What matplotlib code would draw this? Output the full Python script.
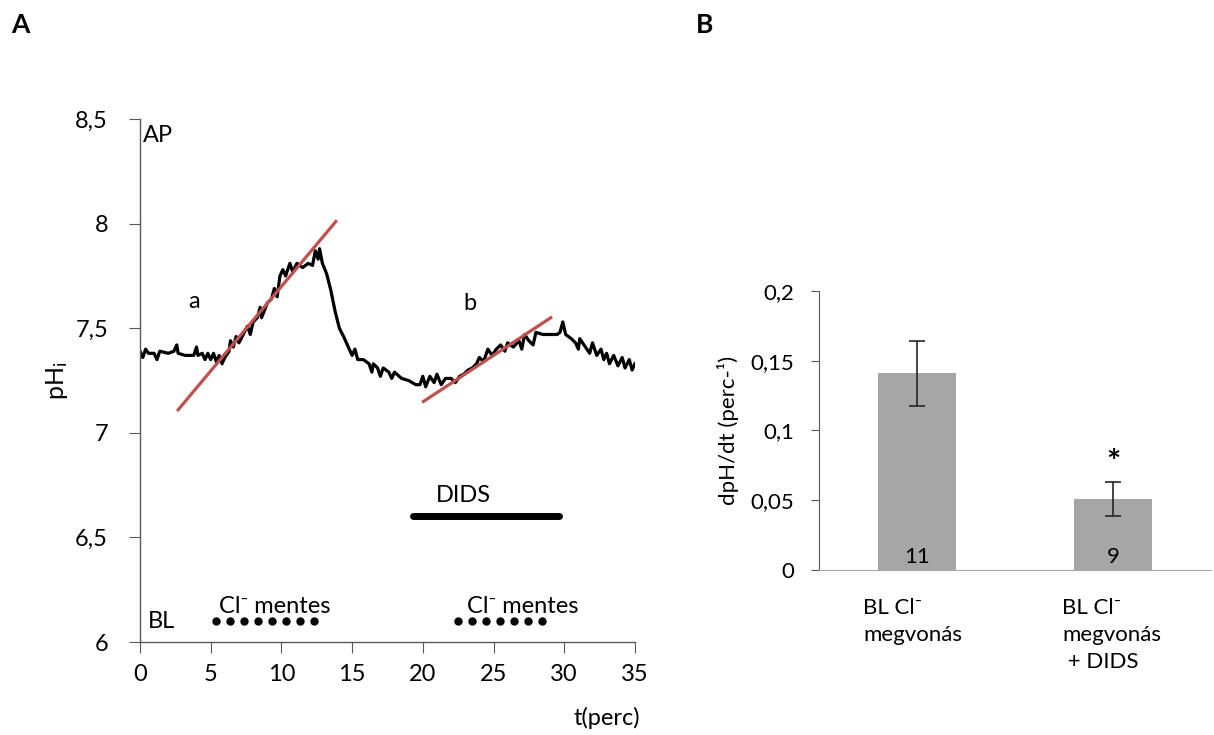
import numpy as np
import matplotlib.pyplot as plt

plt.rcParams['font.family'] = ['Lato', 'DejaVu Sans']
plt.rcParams['mathtext.fontset'] = 'custom'
plt.rcParams['mathtext.rm'] = 'Lato'
plt.rcParams['mathtext.it'] = 'Lato:italic'

# panel A: pHi trace (t in perc, pH)
t_trace = [0.0, 0.2, 0.4, 0.6, 1.0, 1.2, 1.4, 2.0, 2.4, 2.6, 2.7, 3.2, 3.8, 4.0, 4.1, 4.4,
           4.6, 4.8, 5.0, 5.2, 5.4, 5.6, 5.8, 6.0, 6.3, 6.4, 6.6, 6.8, 7.0, 7.3, 7.6, 7.8,
           8.0, 8.3, 8.5, 8.6, 9.0, 9.3, 9.5, 9.7, 9.9, 10.1, 10.3, 10.6, 10.8, 11.1, 11.5,
           11.9, 12.2, 12.4, 12.6, 12.7, 12.9, 13.2, 13.5, 13.8, 14.1, 14.4, 14.6, 14.8,
           15.0, 15.2, 15.4, 15.8, 16.2, 16.4, 16.5, 16.8, 17.0, 17.2, 17.6, 17.8, 18.0,
           18.5, 19.0, 19.5, 19.8, 20.0, 20.2, 20.5, 20.8, 21.0, 21.3, 21.6, 22.0, 22.3,
           22.6, 22.9, 23.2, 23.5, 23.8, 24.0, 24.3, 24.6, 24.9, 25.2, 25.5, 25.8, 26.0,
           26.4, 26.8, 27.0, 27.2, 27.5, 27.8, 28.0, 28.5, 29.0, 29.5, 29.7, 29.9, 30.1,
           30.5, 30.8, 31.0, 31.1, 31.5, 31.8, 32.0, 32.3, 32.6, 32.8, 33.0, 33.2, 33.5,
           33.8, 34.1, 34.3, 34.6, 34.8, 35.0]
ph_trace = [7.39, 7.36, 7.40, 7.38, 7.38, 7.35, 7.39, 7.38, 7.39, 7.42, 7.38, 7.37, 7.37,
            7.41, 7.37, 7.38, 7.35, 7.38, 7.35, 7.38, 7.34, 7.37, 7.33, 7.36, 7.39, 7.44,
            7.41, 7.46, 7.43, 7.47, 7.51, 7.47, 7.53, 7.55, 7.60, 7.55, 7.62, 7.64, 7.69,
            7.65, 7.75, 7.78, 7.75, 7.81, 7.77, 7.81, 7.79, 7.81, 7.80, 7.87, 7.83, 7.88,
            7.81, 7.76, 7.68, 7.58, 7.50, 7.46, 7.43, 7.40, 7.37, 7.40, 7.35, 7.35, 7.33,
            7.29, 7.33, 7.31, 7.27, 7.31, 7.29, 7.26, 7.29, 7.26, 7.25, 7.23, 7.23, 7.27,
            7.22, 7.27, 7.24, 7.28, 7.23, 7.26, 7.26, 7.24, 7.27, 7.28, 7.30, 7.31, 7.33,
            7.36, 7.34, 7.40, 7.37, 7.40, 7.42, 7.39, 7.43, 7.41, 7.44, 7.40, 7.47, 7.44,
            7.42, 7.48, 7.47, 7.47, 7.47, 7.48, 7.53, 7.47, 7.45, 7.43, 7.40, 7.45, 7.41,
            7.38, 7.43, 7.37, 7.40, 7.35, 7.38, 7.33, 7.37, 7.32, 7.36, 7.31, 7.35, 7.30, 7.33]

# fitted slopes a and b (end points)
fit_a_t = [2.7, 13.85]
fit_a_ph = [7.11, 8.01]
fit_b_t = [20.05, 29.05]
fit_b_ph = [7.15, 7.55]

dids_t = [19.3, 29.6]
dids_ph = 6.6
clfree1_t = [5.37, 6.36, 7.35, 8.34, 9.33, 10.32, 11.31, 12.3]
clfree2_t = [22.5, 23.49, 24.48, 25.47, 26.46, 27.45, 28.44]
clfree_ph = 6.1

# panel B
categories = ['BL Cl\u207b\nmegvonás', 'BL Cl\u207b\nmegvonás\n + DIDS']
rates = [0.141, 0.051]
rate_err = [0.0234, 0.0123]
n_cells = ['11', '9']

fs = 17
fig = plt.figure(figsize=(12.14, 7.35), dpi=100)
axis_col = '#595959'

ax1 = fig.add_axes([0.1153, 0.1265, 0.4077, 0.7116])
ax1.plot(t_trace, ph_trace, color='black', linewidth=2.3, zorder=2)
ax1.plot(fit_a_t, fit_a_ph, color='#c0504d', linewidth=2.3, zorder=3)
ax1.plot(fit_b_t, fit_b_ph, color='#c0504d', linewidth=2.3, zorder=3)
ax1.plot(dids_t, [dids_ph, dids_ph], color='black', linewidth=5, solid_capstyle='round')
ax1.plot(clfree1_t, [clfree_ph] * len(clfree1_t), 'o', color='black', markersize=5)
ax1.plot(clfree2_t, [clfree_ph] * len(clfree2_t), 'o', color='black', markersize=5)
ax1.text(22.9, 6.7, 'DIDS', fontsize=fs, ha='center', va='center')
ax1.text(5.6, 6.17, 'Cl\u207b mentes', fontsize=fs, ha='left', va='center')
ax1.text(23.15, 6.17, 'Cl\u207b mentes', fontsize=fs, ha='left', va='center')
ax1.text(0.55, 6.1, 'BL', fontsize=fs, ha='left', va='center')
ax1.text(0.2, 8.42, 'AP', fontsize=fs, ha='left', va='center')
ax1.text(3.8, 7.63, 'a', fontsize=fs, ha='center', va='center')
ax1.text(23.3, 7.62, 'b', fontsize=fs, ha='center', va='center')

ax1.set_xlim(0, 35)
ax1.set_ylim(6, 8.5)
ax1.set_xticks(range(0, 36, 5))
ax1.set_yticks([6, 6.5, 7, 7.5, 8, 8.5])
ax1.set_yticklabels(['6', '6,5', '7', '7,5', '8', '8,5'])
for s in ['top', 'right']:
    ax1.spines[s].set_visible(False)
for s in ['left', 'bottom']:
    ax1.spines[s].set_color(axis_col)
    ax1.spines[s].set_linewidth(1.0)
ax1.tick_params(axis='y', length=8, color=axis_col, labelsize=fs, pad=15)
ax1.tick_params(axis='x', length=8, color=axis_col, labelsize=fs, pad=8)
ax1.set_ylabel('pH$_\\mathrm{i}$', fontsize=18, labelpad=4)
fig.text(607 / 1214, 1 - 718 / 735, 't(perc)', fontsize=fs, ha='center', va='center')

ax2 = fig.add_axes([0.6746, 0.2245, 0.323, 0.3796])
x = np.arange(len(rates)) + 0.5
ax2.bar(x, rates, width=0.4, color='#a6a6a6', zorder=1)
ax2.errorbar(x, rates, yerr=rate_err, fmt='none', ecolor='#262626', elinewidth=1.2,
             capsize=6, capthick=1.2, zorder=2)
for xi, n in zip(x, n_cells):
    ax2.text(xi, 0.0093, n, fontsize=16, ha='center', va='center')
ax2.text(x[1], 0.076, '*', fontsize=24, fontweight='bold', ha='center', va='center')
ax2.set_xlim(0, 2)
ax2.set_ylim(0, 0.2)
ax2.set_yticks([0, 0.05, 0.1, 0.15, 0.2])
ax2.set_yticklabels(['0', '0,05', '0,1', '0,15', '0,2'])
ax2.set_xticks([])
for s in ['top', 'right']:
    ax2.spines[s].set_visible(False)
ax2.spines['left'].set_color(axis_col)
ax2.spines['bottom'].set_color('#a6a6a6')
ax2.tick_params(axis='y', length=6, color=axis_col, labelsize=16, pad=12)
ax2.set_ylabel('dpH/dt (perc-\u00b9)', fontsize=16, labelpad=8)
fig.text(863 / 1214, 1 - 598 / 735, categories[0], fontsize=16, ha='left', va='top',
         linespacing=1.45)
fig.text(1062 / 1214, 1 - 598 / 735, categories[1], fontsize=16, ha='left', va='top',
         linespacing=1.45)

fig.text(20 / 1214, 1 - 25 / 735, 'A', fontsize=19, fontweight='bold', ha='center', va='center')
fig.text(705 / 1214, 1 - 25 / 735, 'B', fontsize=19, fontweight='bold', ha='center', va='center')

plt.savefig('out.png', dpi=100)
